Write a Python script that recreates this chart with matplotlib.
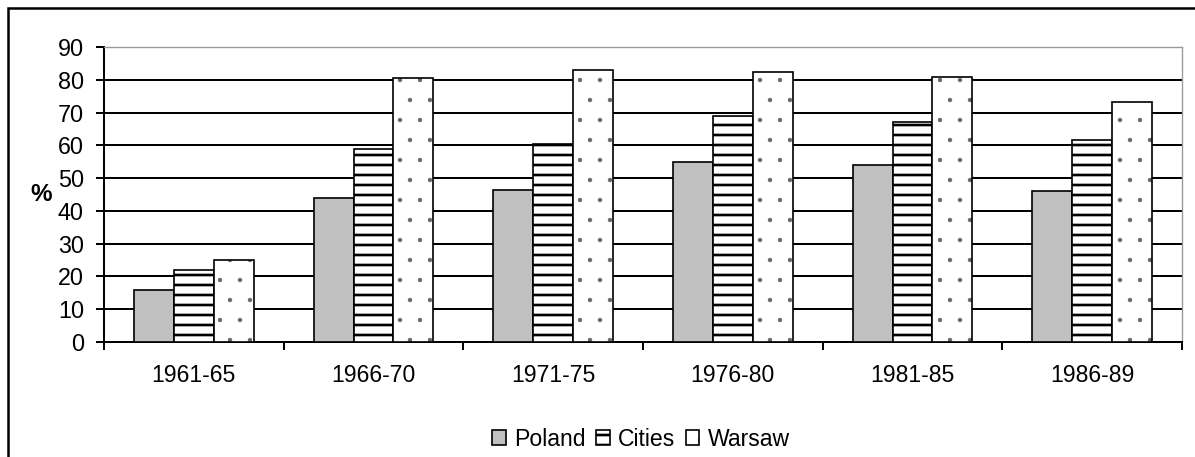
import numpy as np
import matplotlib
matplotlib.use("Agg")
import matplotlib.pyplot as plt
from matplotlib.patches import Rectangle

plt.rcParams['font.family'] = ['Liberation Sans', 'DejaVu Sans']
plt.rcParams['hatch.linewidth'] = 1.6

# data
periods = ["1961-65", "1966-70", "1971-75", "1976-80", "1981-85", "1986-89"]
poland = [16, 44, 46.5, 55, 54, 46]
cities = [22, 59, 60.5, 69, 67, 61.5]
warsaw = [25, 80.5, 83, 82.5, 81, 73.3]
series_names = ["Poland", "Cities", "Warsaw"]
yticks = list(range(0, 100, 10))

fig = plt.figure(figsize=(1195 / 120, 457 / 120), dpi=120)
ax = fig.add_axes([104 / 1195, 1 - 342 / 457, (1182 - 104) / 1195, (342 - 47) / 457])

# outer frame of the chart
fig.patches.append(Rectangle((8 / 1195, -0.01), 1.05, 1 - 8 / 457 + 0.01,
                             transform=fig.transFigure, fill=False,
                             edgecolor='black', linewidth=1.5))

x = np.arange(len(periods))
w = 1 / 4.5
ax.bar(x - w, poland, w, color='#c0c0c0', edgecolor='black', linewidth=1.0,
       label=series_names[0], zorder=3)
bc = ax.bar(x, cities, w, color='white', edgecolor='black', linewidth=1.0,
            hatch='--', label=series_names[1], zorder=3)
bw = ax.bar(x + w, warsaw, w, color='white', edgecolor='black', linewidth=1.0,
            hatch='.', label=series_names[2], zorder=3)
for b in bw:
    b._hatch_color = matplotlib.colors.to_rgba('#666666')
    if hasattr(b, 'set_hatch_linewidth'):
        b.set_hatch_linewidth(0.2)

ax.set_xlim(-0.5, len(periods) - 0.5)
ax.set_ylim(0, 90)
ax.set_yticks(yticks)
ax.set_xticks(x)
ax.set_xticklabels(periods, fontsize=13.8)
ax.set_xticks(np.arange(-0.5, len(periods)), minor=True)
ax.tick_params(axis='x', which='major', length=0, pad=13)
ax.tick_params(axis='x', which='minor', length=4.5, width=1.2, direction='out')
ax.tick_params(axis='y', length=5, width=1.2, direction='out', labelsize=14, pad=7)

ax.yaxis.grid(True, color='black', linewidth=1.2, zorder=0)
ax.set_axisbelow(True)
for s in ['left', 'bottom']:
    ax.spines[s].set_linewidth(1.2)
ax.spines['top'].set_color('#999999')
ax.spines['right'].set_color('#999999')

ax.set_ylabel('%', rotation=0, fontsize=14.5, fontweight='bold', labelpad=10, va='center')

leg = fig.legend(loc='center', bbox_to_anchor=(641 / 1195, 1 - 439 / 457), ncol=3,
                 frameon=False, fontsize=13.8, handlelength=0.6, handleheight=0.6,
                 handletextpad=0.35, columnspacing=0.45)
for h in leg.legend_handles[2:]:
    if hasattr(h, 'set_hatch_linewidth'):
        h.set_hatch_linewidth(0.2)

fig.savefig("out.png", dpi=120)
